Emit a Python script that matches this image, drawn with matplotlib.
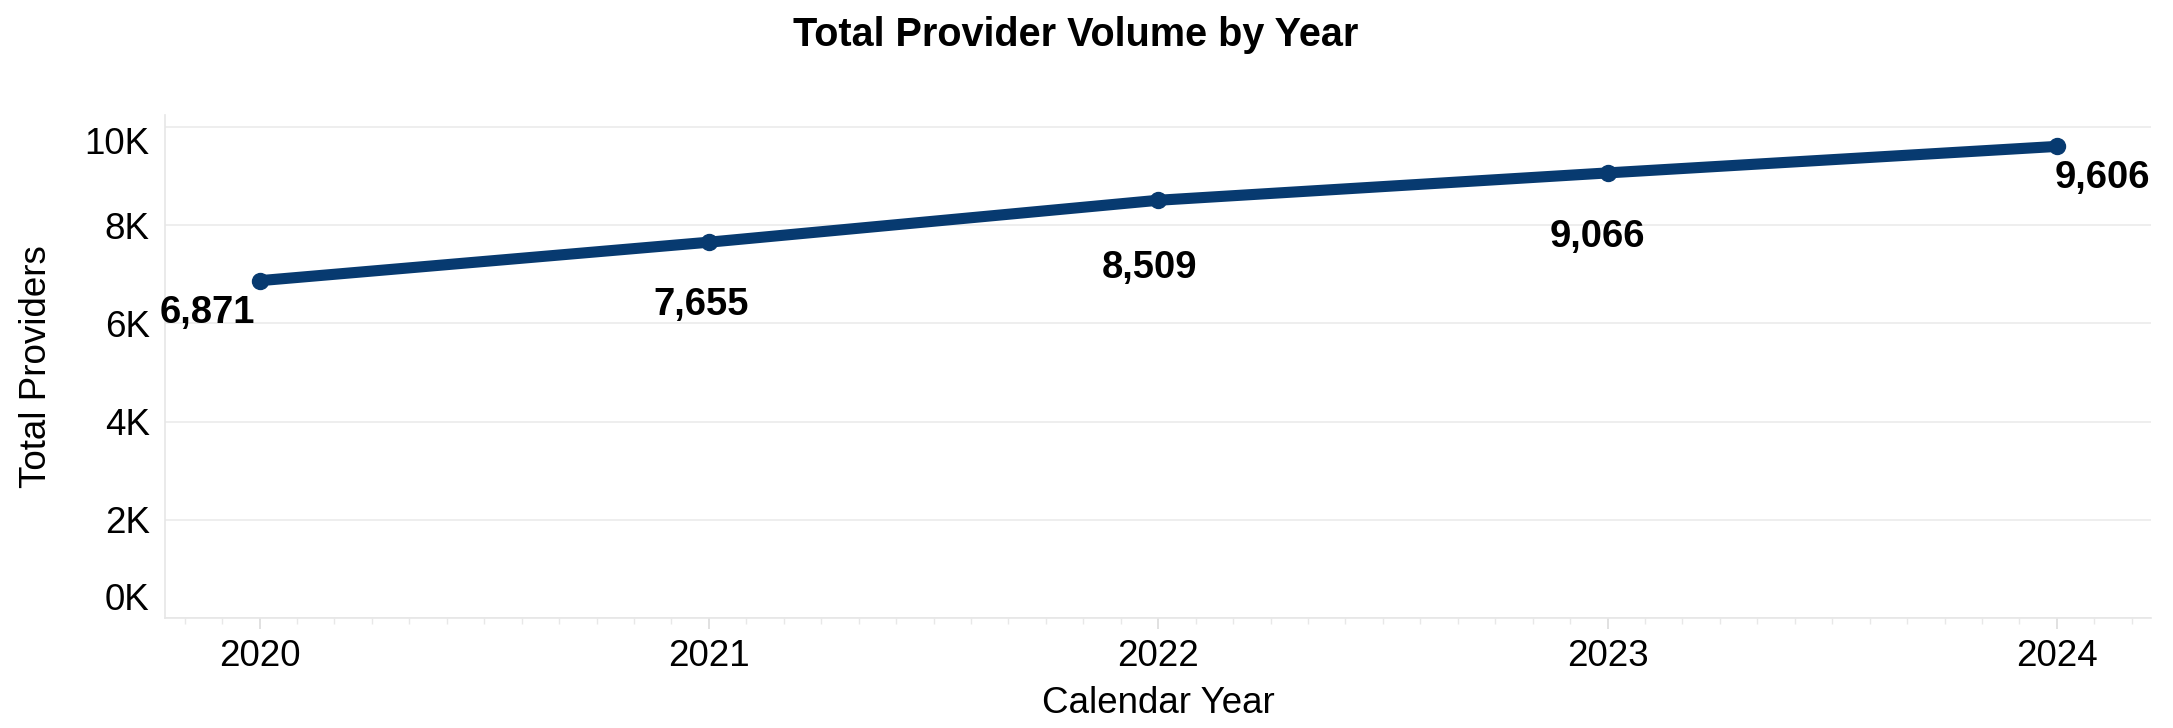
import matplotlib
matplotlib.use("Agg")
import matplotlib.pyplot as plt
from matplotlib.ticker import MultipleLocator

plt.rcParams['font.family'] = ['Liberation Sans', 'DejaVu Sans']

# provider counts per calendar year
years = [2020, 2021, 2022, 2023, 2024]
providers = [6871, 7655, 8509, 9066, 9606]
y_ticks = [0, 2000, 4000, 6000, 8000, 10000]
y_tick_labels = ['0K', '2K', '4K', '6K', '8K', '10K']

NAVY = '#073a70'
GRID = '#ebebeb'

fig = plt.figure(figsize=(21.73, 7.28), dpi=100)
ax = fig.add_axes([0.076, 0.151, 0.914, 0.691])

ax.plot(years, providers, color=NAVY, lw=8, marker='o', ms=11.5,
        solid_capstyle='round', zorder=3)

# value labels: ends sit beside the point, middle ones drop under the line
label_style = [('right', -4, -32), ('center', -8, -63), ('center', -9, -68),
               ('center', -10, -64), ('left', -2, -32)]
for x, v, (ha, dx, dy) in zip(years, providers, label_style):
    ax.annotate(f'{v:,}', (x, v), xytext=(dx, dy), textcoords='offset pixels',
                ha=ha, va='center', fontsize=27.5, fontweight='bold',
                color='black', zorder=4)

ax.set_xlim(2019.79, 2024.21)
ax.set_ylim(0, 10245)

ax.set_xticks(years)
ax.set_xticklabels([str(y) for y in years])
ax.xaxis.set_minor_locator(MultipleLocator(1 / 12))
ax.set_yticks(y_ticks)
ax.set_yticklabels(y_tick_labels)
yl = ax.get_yticklabels()
yl[0].set_va('bottom')
yl[-1].set_va('top')

ax.tick_params(axis='x', which='major', length=8, width=1.2, color='#dcdcdc',
               labelsize=26.5, pad=7)
ax.tick_params(axis='x', which='minor', length=4, width=1.0, color='#e8e8e8')
ax.tick_params(axis='y', length=0, labelsize=26.5, pad=11)

ax.grid(axis='y', color=GRID, lw=1.2)
ax.set_axisbelow(True)
for side in ('top', 'right'):
    ax.spines[side].set_visible(False)
ax.spines['left'].set_color('#e6e6e6')
ax.spines['bottom'].set_color('#e6e6e6')
ax.spines['left'].set_linewidth(1.2)
ax.spines['bottom'].set_linewidth(1.2)

ax.set_xlabel('Calendar Year', fontsize=26.5, labelpad=9)
ax.set_ylabel('Total Providers', fontsize=26.5, labelpad=22)

fig.suptitle('Total Provider Volume by Year', x=0.495, y=0.978,
             fontsize=28.5, fontweight='bold')

fig.savefig('out.png', dpi=100)
